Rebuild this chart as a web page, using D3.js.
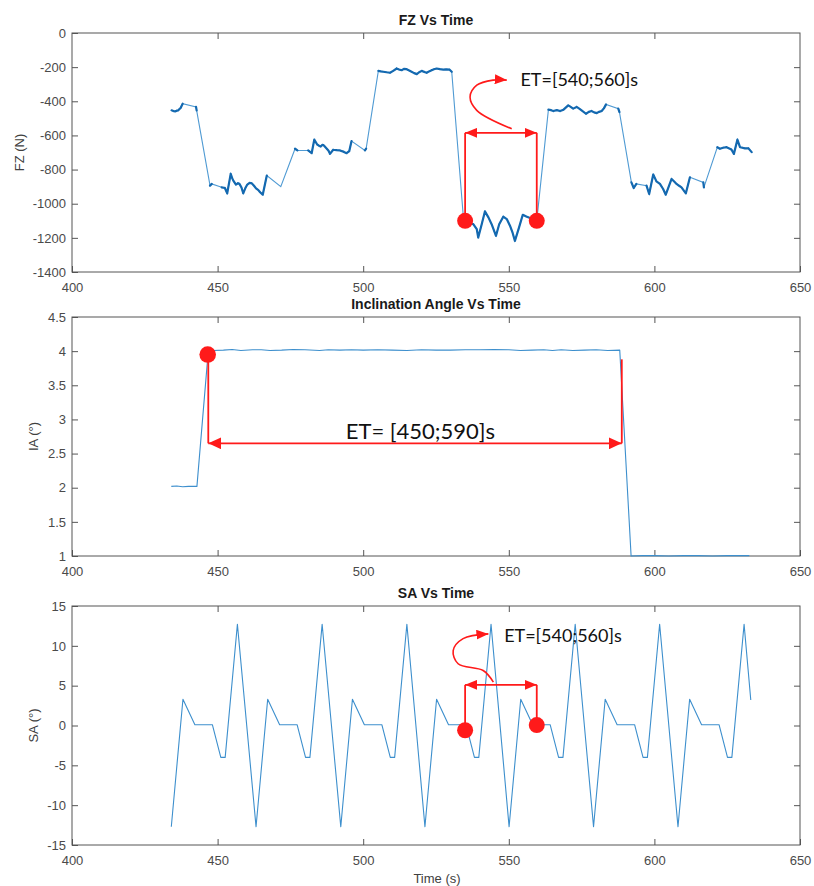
<!DOCTYPE html>
<html>
<head>
<meta charset="utf-8">
<script src="https://cdn.jsdelivr.net/npm/d3@7"></script>
<style>
	body { margin: 0; background: #fff; }
	svg { display: block; }
	.tick text { font-family: "Liberation Sans", Arial, sans-serif; font-size: 13px; fill: #4a4a4a; }
	.tick line { stroke: #555; }
	.title { font-family: "Liberation Sans", Arial, sans-serif; font-size: 14px; font-weight: bold; fill: #1a1a1a; }
	.label { font-family: "Liberation Sans", Arial, sans-serif; font-size: 13px; fill: #404040; }
	.note { font-family: Lato, "Open Sans", sans-serif; fill: #111; }
</style>
</head>
<body>
<svg id="chart" width="814" height="886"></svg>
<script>
// time axis shared by the three panels
var xTicks = [400, 450, 500, 550, 600, 650];

// FZ (N) vs time
var fzTicks = [0, -200, -400, -600, -800, -1000, -1200, -1400];
var fzTime = [434.2, 434.8, 435.4, 436.0, 436.5, 437.0, 437.3, 438.0, 442.6, 442.8,
	447.4, 448.0, 451.4, 452.5, 453.3, 454.5, 455.0, 455.4, 456.3, 457.0, 457.5, 458.2, 458.8, 459.5,
	460.2, 461.0, 461.7, 462.5, 463.2, 464.0, 464.6, 465.5, 466.9, 471.7,
	476.6, 477.4, 481.1, 482.3, 483.2, 484.2, 484.8, 485.4, 486.0, 486.5, 487.5, 488.1, 488.6, 489.7,
	490.8, 492.0, 493.2, 494.3, 495.2, 496.0, 500.6, 501.0,
	505.2, 506.0, 506.9, 508.0, 509.2, 510.3, 511.5, 512.3, 513.2, 514.0, 514.9, 515.8, 516.6, 517.5,
	518.4, 519.2, 520.1, 521.0, 521.8, 522.6, 523.5, 524.3, 525.2, 526.3, 527.5, 528.5, 529.6, 530.4,
	534.4, 536.2, 537.8, 539.0, 539.5, 540.7, 541.8, 543.0, 544.1, 545.6, 546.7, 548.1, 549.3, 550.4,
	551.3, 552.1, 553.5, 554.8, 556.0, 557.3, 558.5, 559.6,
	563.6, 564.5, 565.3, 566.5, 567.6, 568.8, 570.4, 571.0, 572.1, 573.3, 574.2, 575.0, 576.5, 577.5,
	578.4, 579.3, 580.2, 581.0, 581.9, 582.7, 583.4, 587.6, 588.0,
	592.1, 592.9, 593.8, 597.3, 598.2, 599.6, 600.7, 601.9, 603.0, 603.9, 605.9, 606.8, 607.6, 608.5,
	609.3, 610.8, 612.2, 616.8, 617.0,
	621.6, 622.5, 623.6, 624.8, 625.7, 626.5, 627.3, 628.5, 629.4, 630.2, 631.1, 632.3, 633.4];
var fzForce = [-453, -457, -459, -455, -453, -444, -439, -414, -433, -453,
	-894, -884, -904, -908, -939, -825, -850, -865, -888, -880, -884, -905, -939, -910,
	-888, -878, -880, -895, -910, -920, -933, -947, -835, -900,
	-678, -688, -688, -704, -625, -653, -660, -665, -655, -659, -678, -690, -708, -684,
	-686, -688, -695, -704, -692, -633, -688, -678,
	-222, -225, -227, -230, -233, -222, -208, -214, -218, -210, -212, -220, -227, -235,
	-241, -230, -222, -228, -233, -225, -218, -212, -208, -212, -214, -213, -214, -227,
	-1080, -1110, -1120, -1149, -1198, -1120, -1045, -1080, -1120, -1188, -1120, -1076, -1090, -1129,
	-1170, -1218, -1140, -1065, -1075, -1084, -1090, -1100,
	-449, -452, -457, -452, -457, -449, -424, -430, -443, -433, -443, -453, -473, -462,
	-457, -465, -469, -462, -457, -440, -418, -443, -463,
	-875, -908, -884, -894, -943, -829, -869, -884, -914, -947, -855, -870, -884, -895,
	-904, -939, -845, -875, -904,
	-669, -678, -672, -669, -676, -684, -708, -625, -669, -672, -676, -676, -698];

// inclination angle (deg) vs time
var iaTicks = [1, 1.5, 2, 2.5, 3, 3.5, 4, 4.5];
var iaTime = [434.1, 436.0, 438.0, 440.0, 442.9, 446.8, 448.5, 452, 455, 458, 462, 465, 468, 472, 476, 480,
	485, 488, 492, 496, 500, 505, 510, 515, 520, 525, 530, 535, 540, 545, 550, 554, 558, 562, 565,
	568, 572, 576, 580, 584, 588.1, 592.0, 596, 600, 605, 610, 615, 620, 625, 632.6];
var iaAngle = [2.02, 2.025, 2.015, 2.02, 2.02, 4.0, 4.01, 4.015, 4.025, 4.01, 4.02, 4.02, 4.01, 4.015, 4.025, 4.02,
	4.01, 4.02, 4.015, 4.02, 4.015, 4.02, 4.015, 4.01, 4.02, 4.015, 4.015, 4.02, 4.02, 4.025, 4.02, 4.01, 4.015, 4.02, 4.01,
	4.02, 4.01, 4.015, 4.02, 4.01, 4.015, 1.0, 1.005, 1.005, 1.0, 1.005, 1.005, 1.0, 1.005, 1.005];

// slip angle (deg) vs time
var saTicks = [-15, -10, -5, 0, 5, 10, 15];
var saTime = [434.1, 438.1, 442.2, 448.2, 451.1, 452.6, 456.8,
	463.2, 467.2, 471.3, 477.3, 480.2, 481.7, 485.9,
	492.3, 496.3, 500.4, 506.4, 509.3, 510.8, 515.0,
	521.2, 525.2, 529.3, 535.3, 538.2, 539.7, 543.9,
	550.1, 554.1, 558.2, 564.2, 567.1, 568.6, 572.8,
	579.1, 583.1, 587.2, 593.2, 596.1, 597.6, 601.8,
	608.1, 612.1, 616.2, 622.2, 625.1, 626.6, 630.8, 633.1];
var saAngle = [-12.7, 3.3, 0.1, 0.1, -4.0, -4.0, 12.7,
	-12.7, 3.3, 0.1, 0.1, -4.0, -4.0, 12.7,
	-12.7, 3.3, 0.1, 0.1, -4.0, -4.0, 12.7,
	-12.7, 3.3, 0.1, 0.1, -4.0, -4.0, 12.7,
	-12.7, 3.3, 0.1, 0.1, -4.0, -4.0, 12.7,
	-12.7, 3.3, 0.1, 0.1, -4.0, -4.0, 12.7,
	-12.7, 3.3, 0.1, 0.1, -4.0, -4.0, 12.7, 3.2];

// annotation anchors, in data units
var fzMarks = [[535.0, -1100], [559.6, -1100]];
var fzSpanY = -585;
var fzCurl = [[551.0, -561], [539.0, -453], [536.7, -375], [539.0, -306], [544.6, -276], [549.3, -276]];
var fzNote = { t: 554.0, v: -312, text: "ET=[540;560]s" };

var iaMark = [446.6, 3.95];
var iaSpan = [446.8, 588.8];
var iaSpanY = 2.65;
var iaRightTop = 3.88;
var iaNote = { t: 494.0, v: 2.72, text: "ET= [450;590]s" };

var saMarks = [[535.0, -0.6], [559.6, 0.05]];
var saSpanY = 5.1;
var saCurl = [[544.7, 5.45], [541.2, 6.9], [532.6, 7.75], [530.9, 9.4], [534.3, 10.9], [543.0, 11.5]];
var saNote = { t: 548.4, v: 10.5, text: "ET=[540;560]s" };

var svg = d3.select("#chart");
var x = d3.scaleLinear().domain([400, 650]).range([72, 800]);
var red = "#ff1a1a";

function init() {
	defineMarkers();
	var fz = drawPanel(33, 272, [-1400, 0], fzTicks, "FZ Vs Time", "FZ (N)");
	var ia = drawPanel(317, 556, [1, 4.5], iaTicks, "Inclination Angle Vs Time", "IA (\u00b0)");
	var sa = drawPanel(606, 845, [-15, 15], saTicks, "SA Vs Time", "SA (\u00b0)");

	drawForce(fz);
	drawSeries(ia, iaTime, iaAngle);
	drawSeries(sa, saTime, saAngle);

	svg.append("text").attr("class", "label")
		.attr("x", 437).attr("y", 883)
		.attr("text-anchor", "middle")
		.text("Time (s)");

	drawWindow(fz, fzMarks, fzSpanY, fzCurl, fzNote, 18);
	drawWindow(sa, saMarks, saSpanY, saCurl, saNote, 18);
	drawIaWindow(ia);
}

function defineMarkers() {
	var defs = svg.append("defs");
	defs.append("marker")
		.attr("id", "head")
		.attr("viewBox", "0 0 12 10")
		.attr("refX", 12).attr("refY", 5)
		.attr("markerWidth", 12).attr("markerHeight", 10)
		.attr("markerUnits", "userSpaceOnUse")
		.attr("orient", "auto-start-reverse")
		.append("path")
		.attr("d", "M0,0 L12,5 L0,10 z")
		.attr("fill", red);
	defs.append("marker")
		.attr("id", "bighead")
		.attr("viewBox", "0 0 13 12")
		.attr("refX", 13).attr("refY", 6)
		.attr("markerWidth", 13).attr("markerHeight", 12)
		.attr("markerUnits", "userSpaceOnUse")
		.attr("orient", "auto-start-reverse")
		.append("path")
		.attr("d", "M0,0 L13,6 L0,12 z")
		.attr("fill", red);
}

function noLabels() { return ""; }
function plainLabel(d) { return String(d); }

function drawPanel(top, bottom, domain, ticks, title, yLabel) {
	var y = d3.scaleLinear().domain(domain).range([bottom, top]);
	var g = svg.append("g");

	g.append("g")
		.attr("transform", "translate(0," + bottom + ")")
		.call(d3.axisBottom(x).tickValues(xTicks).tickSizeInner(-6).tickSizeOuter(0).tickPadding(11))
		.call(function(a) { a.select(".domain").remove(); });
	g.append("g")
		.attr("transform", "translate(0," + top + ")")
		.call(d3.axisTop(x).tickValues(xTicks.slice(1, -1)).tickSizeInner(-6).tickSizeOuter(0).tickFormat(noLabels))
		.call(function(a) { a.select(".domain").remove(); });
	g.append("g")
		.attr("transform", "translate(72,0)")
		.call(d3.axisLeft(y).tickValues(ticks).tickSizeInner(-6).tickSizeOuter(0).tickPadding(6).tickFormat(plainLabel))
		.call(function(a) { a.select(".domain").remove(); });
	g.append("g")
		.attr("transform", "translate(800,0)")
		.call(d3.axisRight(y).tickValues(ticks.slice(1, -1)).tickSizeInner(-6).tickSizeOuter(0).tickFormat(noLabels))
		.call(function(a) { a.select(".domain").remove(); });

	g.append("rect")
		.attr("x", 72).attr("y", top)
		.attr("width", 728).attr("height", bottom - top)
		.attr("fill", "none")
		.attr("stroke", "#555")
		.attr("stroke-width", 1);

	g.append("text").attr("class", "title")
		.attr("x", 436).attr("y", top - 8)
		.attr("text-anchor", "middle")
		.text(title);

	g.append("text").attr("class", "label")
		.attr("transform", "translate(" + (domain[0] < -1000 ? 24 : 38) + "," + ((top + bottom) / 2) + ") rotate(-90)")
		.attr("text-anchor", "middle")
		.text(yLabel);

	return { g: g, y: y };
}

function drawSeries(panel, times, values) {
	var pts = times.map(function(t, i) { return [t, values[i]]; });
	var line = d3.line()
		.x(function(d) { return x(d[0]); })
		.y(function(d) { return panel.y(d[1]); });
	panel.g.append("path")
		.datum(pts)
		.attr("d", line)
		.attr("fill", "none")
		.attr("stroke", "#3d8fcd")
		.attr("stroke-width", 1.1)
		.attr("stroke-linejoin", "round");
}

function drawForce(panel) {
	var pts = fzTime.map(function(t, i) { return [t, fzForce[i]]; });
	var line = d3.line()
		.x(function(d) { return x(d[0]); })
		.y(function(d) { return panel.y(d[1]); });
	panel.g.append("path")
		.datum(pts)
		.attr("d", line)
		.attr("fill", "none")
		.attr("stroke", "#4f9ad3")
		.attr("stroke-width", 1.1);

	// densely sampled stretches show up heavier in the original plot
	var pairs = [];
	for (var ii = 0; ii < pts.length - 1; ++ii) {
		if (pts[ii + 1][0] - pts[ii][0] < 2.5) {
			pairs.push([pts[ii], pts[ii + 1]]);
		}
	}
	panel.g.append("path")
		.attr("d", pairs.map(function(p) { return line(p); }).join(""))
		.attr("fill", "none")
		.attr("stroke", "#1469b0")
		.attr("stroke-width", 2.2)
		.attr("stroke-linecap", "round")
		.attr("stroke-linejoin", "round");
}

function drawWindow(panel, marks, spanY, curl, note, fontSize) {
	var g = panel.g;
	var y = panel.y;
	marks.forEach(function(m) {
		g.append("line")
			.attr("x1", x(m[0])).attr("y1", y(m[1]))
			.attr("x2", x(m[0])).attr("y2", y(spanY))
			.attr("stroke", red).attr("stroke-width", 1.8);
	});
	g.append("line")
		.attr("x1", x(marks[0][0])).attr("y1", y(spanY))
		.attr("x2", x(marks[1][0])).attr("y2", y(spanY))
		.attr("stroke", red).attr("stroke-width", 1.8)
		.attr("marker-start", "url(#head)")
		.attr("marker-end", "url(#head)");
	var curve = d3.line()
		.x(function(d) { return x(d[0]); })
		.y(function(d) { return y(d[1]); })
		.curve(d3.curveCatmullRom);
	g.append("path")
		.datum(curl)
		.attr("d", curve)
		.attr("fill", "none")
		.attr("stroke", red).attr("stroke-width", 1.6)
		.attr("marker-end", "url(#head)");
	g.selectAll("circle.mark")
		.data(marks)
		.enter()
		.append("circle")
		.attr("class", "mark")
		.attr("cx", function(d) { return x(d[0]); })
		.attr("cy", function(d) { return y(d[1]); })
		.attr("r", 8)
		.attr("fill", red);
	g.append("text").attr("class", "note")
		.attr("x", x(note.t)).attr("y", y(note.v))
		.style("font-size", fontSize + "px")
		.text(note.text);
}

function drawIaWindow(panel) {
	var g = panel.g;
	var y = panel.y;
	g.append("line")
		.attr("x1", x(iaSpan[0])).attr("y1", y(iaMark[1]))
		.attr("x2", x(iaSpan[0])).attr("y2", y(iaSpanY))
		.attr("stroke", red).attr("stroke-width", 1.8);
	g.append("line")
		.attr("x1", x(iaSpan[1])).attr("y1", y(iaRightTop))
		.attr("x2", x(iaSpan[1])).attr("y2", y(iaSpanY))
		.attr("stroke", red).attr("stroke-width", 1.8);
	g.append("line")
		.attr("x1", x(iaSpan[0])).attr("y1", y(iaSpanY))
		.attr("x2", x(iaSpan[1])).attr("y2", y(iaSpanY))
		.attr("stroke", red).attr("stroke-width", 1.8)
		.attr("marker-start", "url(#bighead)")
		.attr("marker-end", "url(#bighead)");
	g.append("circle")
		.attr("cx", x(iaMark[0])).attr("cy", y(iaMark[1]))
		.attr("r", 8.3)
		.attr("fill", red);
	g.append("text").attr("class", "note")
		.attr("x", x(iaNote.t)).attr("y", y(iaNote.v))
		.style("font-size", "22px")
		.text(iaNote.text);
}

init();
</script>
</body>
</html>
